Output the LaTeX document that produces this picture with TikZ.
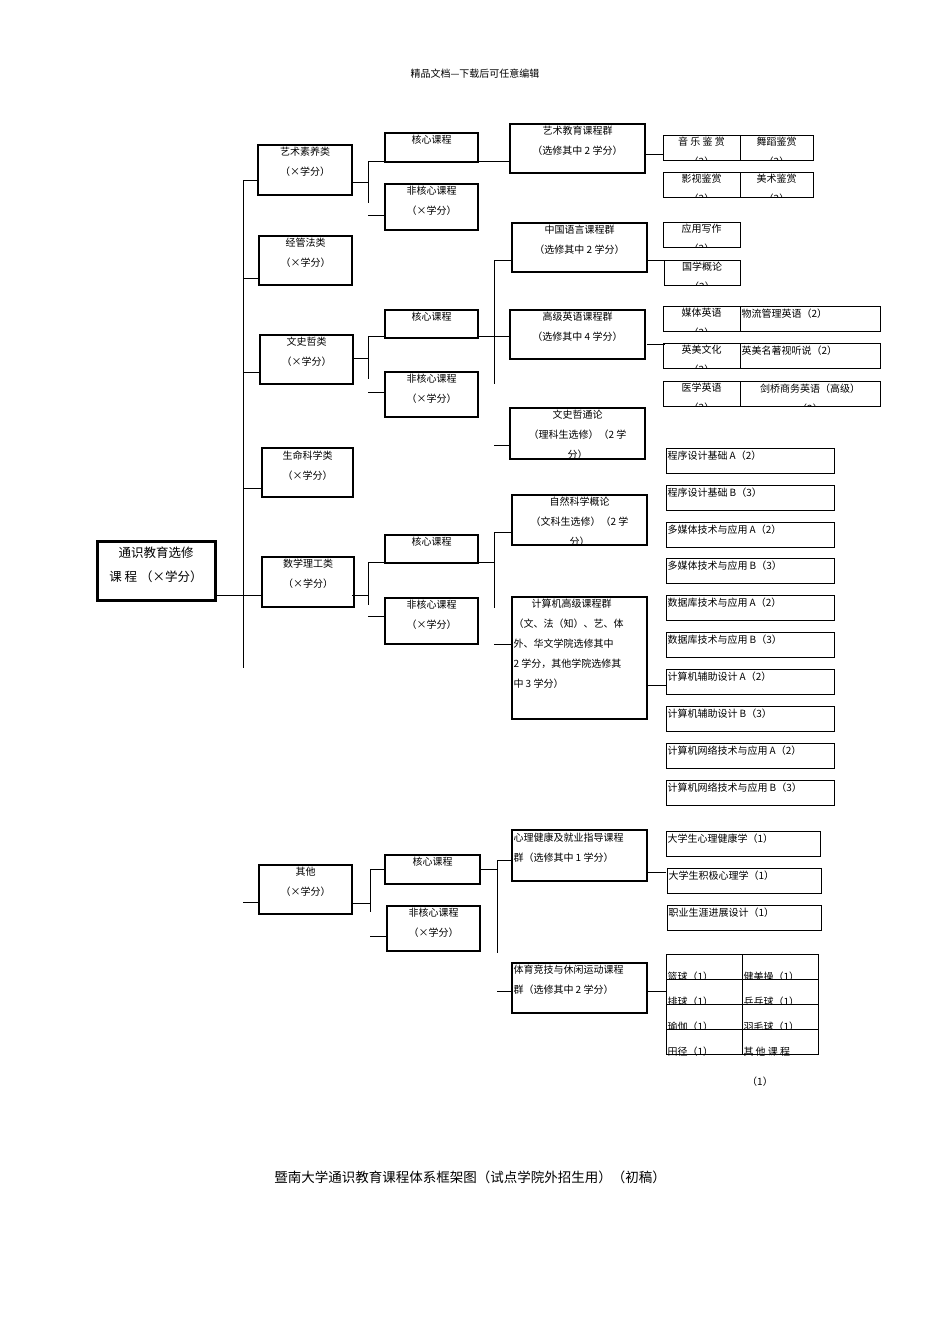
\documentclass[tikz,border=0pt]{standalone}
\usepackage{fontspec}
\setmainfont{Noto Sans CJK SC}
\begin{document}
\begin{tikzpicture}[x=1pt,y=-1pt,line width=1pt]
\useasboundingbox[fill=white] (0,0) rectangle (950,1344);
\newcommand\bx[7]{%
 \begin{scope}\clip (#2,#3) rectangle (#4,#5);
 \if c#6\node[anchor=north,inner sep=0,align=center,font=\fontsize{10}{20}\selectfont] at ({(#2+#4)/2},{#3+2}) {#7};
 \else\node[anchor=north west,inner sep=0,align=left,font=\fontsize{10}{20}\selectfont] at ({#2+1},{#3+2}) {#7};\fi
 \end{scope}
 \draw[line width=#1] (#2,#3) rectangle (#4,#5);}
\node[font=\fontsize{10}{12}\selectfont] (hdr) at (475,74) {精品文档---下载后可任意编辑};
% root
\begin{scope}\clip (97,541) rectangle (215,600);
\node[anchor=north,inner sep=0,align=center,font=\fontsize{12.5}{24}\selectfont] (root) at (156,546) {通识教育选修\\课\ 程\ （×学分）};
\end{scope}
\draw[line width=3pt] (97,541) rectangle (215,600);
% trunk
\draw (243,180) -- (243,668);
\draw (215,595) -- (262,595);
\foreach \y/\x in {180/258,278/259,372/260,488/262} \draw (243,\y) -- (\x,\y);
\draw (243,902) -- (259,902);
% categories
\bx{2pt}{258}{145}{352}{195}{c}{艺术素养类\\（×学分）}
\bx{2pt}{259}{236}{352}{285}{c}{经管法类\\（×学分）}
\bx{2pt}{260}{335}{353}{384}{c}{文史哲类\\（×学分）}
\bx{2pt}{262}{448}{353}{497}{c}{生命科学类\\（×学分）}
\bx{1.5pt}{262}{557}{354}{607}{c}{数学理工类\\（×学分）}
\bx{2pt}{259}{865}{352}{914}{c}{其他\\（×学分）}
% sub branches
\foreach \yc/\ya/\yb/\yk/\yn in {182/161/203/161/215, 358/336/379/336/392, 595/562/605/562/616}{
 \draw (352,\yc) -- (368,\yc); \draw (368,\ya) -- (368,\yb);
 \draw (368,\yk) -- (385,\yk); \draw (368,\yn) -- (385,\yn);}
\draw (352,903) -- (370,903); \draw (370,869) -- (370,912);
\draw (370,869) -- (385,869); \draw (370,936) -- (387,936);
\bx{1.5pt}{385}{133}{478}{162}{c}{核心课程}
\bx{1.5pt}{385}{184}{478}{230}{c}{非核心课程\\（×学分）}
\bx{1.5pt}{385}{310}{478}{338}{c}{核心课程}
\bx{1.5pt}{385}{372}{478}{417}{c}{非核心课程\\（×学分）}
\bx{1.5pt}{385}{535}{478}{563}{c}{核心课程}
\bx{1.5pt}{385}{598}{478}{644}{c}{非核心课程\\（×学分）}
\bx{1.5pt}{385}{855}{480}{884}{c}{核心课程}
\bx{1.5pt}{387}{906}{480}{951}{c}{非核心课程\\（×学分）}
% groups
\draw (478,161) -- (510,161);
\bx{1.5pt}{510}{124}{645}{173}{c}{艺术教育课程群\\（选修其中 2 学分）}
\draw (478,336) -- (494,336); \draw (494,260) -- (494,384);
\draw (494,260) -- (512,260); \draw (494,336) -- (510,336); \draw (494,445) -- (510,445);
\bx{1.5pt}{512}{223}{647}{272}{c}{中国语言课程群\\（选修其中 2 学分）}
\bx{1.5pt}{510}{310}{645}{359}{c}{高级英语课程群\\（选修其中 4 学分）}
\bx{1.5pt}{510}{408}{645}{459}{c}{文史哲通论\\（理科生选修）（2 学\\分）}
\draw (478,562) -- (494,562); \draw (494,532) -- (494,608);
\draw (494,532) -- (512,532); \draw (494,644) -- (512,644);
\bx{1.5pt}{512}{495}{647}{545}{c}{自然科学概论\\（文科生选修）（2 学\\分）}
\bx{1.5pt}{512}{597}{647}{719}{l}{\hspace*{18pt}计算机高级课程群\\（文、法（知）、艺、体\\外、华文学院选修其中\\2 学分，其他学院选修其\\中 3 学分）}
\draw (480,869) -- (497,869); \draw (497,860) -- (497,953);
\draw (497,860) -- (512,860); \draw (497,991) -- (512,991);
\bx{1.5pt}{512}{830}{647}{881}{l}{心理健康及就业指导课程\\群（选修其中 1 学分）}
\bx{1.5pt}{512}{963}{647}{1013}{l}{体育竞技与休闲运动课程\\群（选修其中 2 学分）}
% item connectors
\draw (645,154) -- (663,154);
\draw (647,260) -- (665,260);
\draw (647,344) -- (665,344);
\draw (647,685) -- (666,685);
\draw (647,872) -- (666,872);
\draw (647,991) -- (666,991);
% items
\bx{1pt}{663}{135}{740}{160}{c}{音\ 乐\ 鉴\ 赏\\（2）}
\bx{1pt}{740}{135}{813}{160}{c}{舞蹈鉴赏\\（2）}
\bx{1pt}{663}{172}{740}{197}{c}{影视鉴赏\\（2）}
\bx{1pt}{740}{172}{813}{197}{c}{美术鉴赏\\（2）}
\bx{1pt}{663}{222}{740}{247}{c}{应用写作\\（2）}
\bx{1pt}{664}{260}{740}{285}{c}{国学概论\\（2）}
\bx{1pt}{663}{306}{740}{331}{c}{媒体英语\\（2）}
\bx{1pt}{740}{306}{880}{331}{l}{物流管理英语（2）}
\bx{1pt}{663}{343}{740}{368}{c}{英美文化\\（2）}
\bx{1pt}{740}{343}{880}{368}{l}{英美名著视听说（2）}
\bx{1pt}{663}{381}{740}{406}{c}{医学英语\\（2）}
\bx{1pt}{740}{381}{880}{406}{c}{剑桥商务英语（高级）\\（2）}
\foreach \t/\s in {448/程序设计基础 A（2）,485/程序设计基础 B（3）,522/多媒体技术与应用 A（2）,558/多媒体技术与应用 B（3）,595/数据库技术与应用 A（2）,632/数据库技术与应用 B（3）,669/计算机辅助设计 A（2）,706/计算机辅助设计 B（3）,743/计算机网络技术与应用 A（2）,780/计算机网络技术与应用 B（3）}{
 \bx{1pt}{666}{\t}{834}{\t+25}{l}{\s}}
\bx{1pt}{666}{831}{820}{856}{l}{大学生心理健康学（1）}
\bx{1pt}{667}{868}{821}{893}{l}{大学生积极心理学（1）}
\bx{1pt}{667}{905}{821}{930}{l}{职业生涯进展设计（1）}
% sports grid
\foreach \t/\a/\b in {954/篮球（1）/健美操（1）,979/排球（1）/乒乓球（1）,1004/瑜伽（1）/羽毛球（1）,1029/田径（1）/其\ 他\ 课\ 程}{
 \fill[white] (666,\t) rectangle (818,\t+26);
 \draw (666,\t) rectangle (742,\t+25); \draw (742,\t) rectangle (818,\t+25);
 \node[anchor=west,inner sep=0,font=\fontsize{10}{12}\selectfont] at (667,\t+23) {\a};
 \node[anchor=west,inner sep=0,font=\fontsize{10}{12}\selectfont] at (743,\t+23) {\b};}
\node[font=\fontsize{10}{12}\selectfont] (one) at (760,1082) {（1）};
\node[font=\fontsize{13.5}{16}\selectfont] (cap) at (470,1177) {暨南大学通识教育课程体系框架图（试点学院外招生用）（初稿）};
\end{tikzpicture}
\end{document}
